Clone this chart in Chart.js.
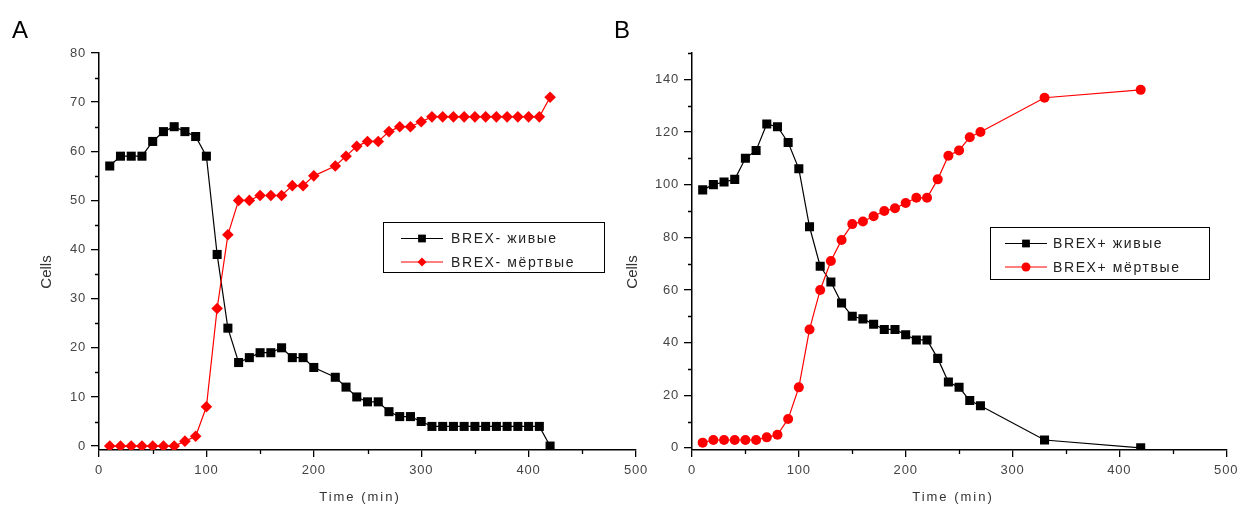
<!DOCTYPE html>
<html>
<head>
<meta charset="utf-8">
<script src="https://cdn.jsdelivr.net/npm/chart.js@4.4.1/dist/chart.umd.min.js"></script>
<style>
  html, body { margin: 0; background: #fff; }
  #wrap { position: relative; width: 1243px; height: 508px; }
  #wrap canvas { position: absolute; left: 0; top: 0; }
</style>
</head>
<body>
<div id="wrap">
  <canvas id="chartA" width="1243" height="508"></canvas>
  <canvas id="chartB" width="1243" height="508"></canvas>
</div>
<script>
// Данные панели A (BREX-)
const timeA = [10, 20, 30, 40, 50, 60, 70, 80, 90, 100, 110, 120, 130, 140, 150, 160, 170, 180, 190, 200,
               220, 230, 240, 250, 260, 270, 280, 290, 300, 310, 320, 330, 340, 350, 360, 370, 380, 390, 400, 410, 420];
const liveA = [57, 59, 59, 59, 62, 64, 65, 64, 63, 59, 39, 24, 17, 18, 19, 19, 20, 18, 18, 16,
               14, 12, 10, 9, 9, 7, 6, 6, 5, 4, 4, 4, 4, 4, 4, 4, 4, 4, 4, 4, 0];
const deadA = [0, 0, 0, 0, 0, 0, 0, 1, 2, 8, 28, 43, 50, 50, 51, 51, 51, 53, 53, 55,
               57, 59, 61, 62, 62, 64, 65, 65, 66, 67, 67, 67, 67, 67, 67, 67, 67, 67, 67, 67, 71];

// Данные панели B (BREX+)
const timeB = [10, 20, 30, 40, 50, 60, 70, 80, 90, 100, 110, 120, 130, 140, 150, 160, 170, 180, 190, 200,
               210, 220, 230, 240, 250, 260, 270, 330, 420];
const liveB = [98, 100, 101, 102, 110, 113, 123, 122, 116, 106, 84, 69, 63, 55, 50, 49, 47, 45, 45, 43,
               41, 41, 34, 25, 23, 18, 16, 3, 0];
const deadB = [2, 3, 3, 3, 3, 3, 4, 5, 11, 23, 45, 60, 71, 79, 85, 86, 88, 90, 91, 93,
               95, 95, 102, 111, 113, 118, 120, 133, 136];

const labelsA = ['BREX- живые', 'BREX- мёртвые'];
const labelsB = ['BREX+ живые', 'BREX+ мёртвые'];

const xTicks = [0, 100, 200, 300, 400, 500];
const xMinor = [50, 150, 250, 350, 450];
const yMinorA = [5, 15, 25, 35, 45, 55, 65, 75];
const yMinorB = [10, 30, 50, 70, 90, 110, 130, 150];

const FONT = '"Liberation Sans", Arial, sans-serif';

const toPoints = (xs, ys) => xs.map((x, i) => ({ x: x, y: ys[i] }));

// Рисуем маркер для легенды
function marker(ctx, style, r, x, y, color) {
    ctx.fillStyle = color;
    ctx.beginPath();
    if (style === 'rect') {
        const s = r * Math.SQRT1_2;
        ctx.rect(x - s, y - s, 2 * s, 2 * s);
    } else if (style === 'rectRot') {
        ctx.moveTo(x - r, y); ctx.lineTo(x, y - r); ctx.lineTo(x + r, y); ctx.lineTo(x, y + r);
        ctx.closePath();
    } else {
        ctx.arc(x, y, r, 0, Math.PI * 2);
    }
    ctx.fill();
}

// Плагин: малые деления, подписи осей, буква панели, легенда в рамке
const decor = {
    id: 'decor',
    beforeDraw(chart) {
        chart.ctx.letterSpacing = '0.8px'; // разреженные цифры, как в Origin
    },
    afterDraw(chart, args, o) {
        const { ctx, chartArea: a, scales: { x, y } } = chart;
        ctx.save();

        ctx.strokeStyle = '#000';
        ctx.lineWidth = 1.3;
        ctx.beginPath();
        xMinor.forEach(v => {
            const px = Math.round(x.getPixelForValue(v)) + 0.5;
            ctx.moveTo(px, a.bottom); ctx.lineTo(px, a.bottom + 4);
        });
        o.minorY.forEach(v => {
            const py = Math.round(y.getPixelForValue(v)) + 0.5;
            ctx.moveTo(a.left - 4, py); ctx.lineTo(a.left, py);
        });
        ctx.stroke();

        ctx.letterSpacing = '0px';
        ctx.fillStyle = '#000';
        ctx.textAlign = 'center';
        ctx.textBaseline = 'middle';
        ctx.font = '24px ' + FONT;
        ctx.fillText(o.letter, o.letterX, 31);

        ctx.fillStyle = '#333';
        ctx.font = '15px ' + FONT;
        ctx.save();
        ctx.translate(o.yTitleX, 272);
        ctx.rotate(-Math.PI / 2);
        ctx.fillText('Cells', 0, 0);
        ctx.restore();

        ctx.letterSpacing = '2px';
        ctx.font = '13px ' + FONT;
        ctx.fillText('Time (min)', o.xTitleX, 497);

        // легенда
        const L = o.legend;
        ctx.letterSpacing = '1.6px';
        ctx.strokeStyle = '#000';
        ctx.lineWidth = 1;
        ctx.strokeRect(L.x + 0.5, L.y + 0.5, L.w, L.h);
        ctx.textAlign = 'left';
        ctx.font = '14px ' + FONT;
        chart.data.datasets.forEach((ds, i) => {
            const cy = L.y + 16.5 + i * 23.5;
            ctx.strokeStyle = ds.borderColor;
            ctx.lineWidth = 1.2;
            ctx.beginPath();
            ctx.moveTo(L.x + L.lineFrom, cy); ctx.lineTo(L.x + L.lineFrom + 42, cy);
            ctx.stroke();
            marker(ctx, ds.pointStyle, ds.pointStyle === 'rect' ? 5.5 : 4.5, L.x + L.lineFrom + 21, cy, ds.backgroundColor);
            ctx.fillStyle = '#222';
            ctx.fillText(ds.label, L.x + L.textFrom, cy + 1);
        });
        ctx.restore();
    }
};

function makePanel(id, opt) {
    const ctx = document.getElementById(id).getContext('2d');
    return new Chart(ctx, {
        type: 'line',
        data: {
            datasets: [
                {
                    label: opt.labels[0],
                    data: toPoints(opt.time, opt.live),
                    borderColor: '#000',
                    backgroundColor: '#000',
                    borderWidth: 1.2,
                    pointStyle: 'rect',
                    pointRadius: 6.4,
                    pointBorderWidth: 0,
                    tension: 0,
                    order: 1
                },
                {
                    label: opt.labels[1],
                    data: toPoints(opt.time, opt.dead),
                    borderColor: '#ff0000',
                    backgroundColor: '#ff0000',
                    borderWidth: 1.2,
                    pointStyle: opt.deadStyle,
                    pointRadius: opt.deadRadius,
                    pointBorderWidth: 0,
                    tension: 0,
                    order: 0
                }
            ]
        },
        options: {
            responsive: false,
            animation: false,
            layout: { padding: { left: opt.left - 99, top: 53, right: 1243 - opt.right, bottom: 0 } },
            plugins: {
                legend: { display: false },
                tooltip: { enabled: false },
                decor: opt.decor
            },
            scales: {
                x: {
                    type: 'linear',
                    min: 0,
                    max: 500,
                    afterFit: s => { s.height = 58; },
                    afterBuildTicks: s => { s.ticks = xTicks.map(v => ({ value: v })); },
                    grid: { drawOnChartArea: false, drawTicks: true, tickLength: 7, color: '#000', lineWidth: 1.3 },
                    border: { display: true, color: '#000', width: 1.5 },
                    ticks: { autoSkip: false, maxRotation: 0, padding: 6, color: '#444', font: { family: FONT, size: 13 } }
                },
                y: {
                    type: 'linear',
                    min: -0.8,
                    max: opt.ymax,
                    afterFit: s => { s.width = 99; },
                    grid: { drawOnChartArea: false, drawTicks: true, tickLength: 8, color: '#000', lineWidth: 1.3 },
                    border: { display: true, color: '#000', width: 1.5 },
                    ticks: { stepSize: opt.ystep, includeBounds: false, autoSkip: false, padding: 5, color: '#444', font: { family: FONT, size: 13 } }
                }
            }
        },
        plugins: [decor]
    });
}

makePanel('chartA', {
    time: timeA, live: liveA, dead: deadA, labels: labelsA,
    deadStyle: 'rectRot', deadRadius: 5.8,
    left: 99, right: 636, ymax: 80, ystep: 10,
    decor: {
        letter: 'A', letterX: 20, yTitleX: 47, xTitleX: 360, minorY: yMinorA,
        legend: { x: 383, y: 222, w: 221, h: 50, lineFrom: 18, textFrom: 68 }
    }
});

makePanel('chartB', {
    time: timeB, live: liveB, dead: deadB, labels: labelsB,
    deadStyle: 'circle', deadRadius: 5,
    left: 692, right: 1229, ymax: 150, ystep: 20,
    decor: {
        letter: 'B', letterX: 622, yTitleX: 633, xTitleX: 953, minorY: yMinorB,
        legend: { x: 990, y: 227, w: 219, h: 52, lineFrom: 15, textFrom: 63 }
    }
});
</script>
</body>
</html>
